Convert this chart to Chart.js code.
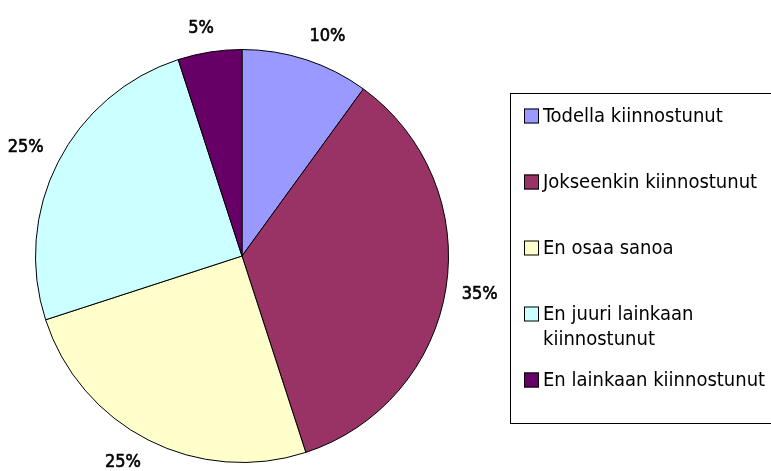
<!DOCTYPE html>
<html>
<head>
<meta charset="utf-8">
<script src="https://cdn.jsdelivr.net/npm/chart.js@4/dist/chart.umd.min.js"></script>
<style>
  html, body { margin: 0; padding: 0; background: #ffffff; }
  #wrap { width: 771px; height: 471px; position: relative; }
</style>
</head>
<body>
<div id="wrap"><canvas id="c"></canvas></div>
<script>
const categories = [
  'Todella kiinnostunut',
  'Jokseenkin kiinnostunut',
  'En osaa sanoa',
  ['En juuri lainkaan', 'kiinnostunut'],
  'En lainkaan kiinnostunut'
];
const percentValues = [10, 35, 25, 25, 5];
const sliceColors = ['#9999FF', '#993366', '#FFFFCC', '#CCFFFF', '#660066'];

const LABEL_FONT = '18px "DejaVu Sans Condensed", "DejaVu Sans", sans-serif';
const LEGEND_FONT = '20px "DejaVu Sans Condensed", "DejaVu Sans", sans-serif';

const outsideLabels = {
  id: 'outsideLabels',
  afterDatasetsDraw(chart) {
    const ctx = chart.ctx;
    const meta = chart.getDatasetMeta(0);
    ctx.save();
    ctx.font = LABEL_FONT;
    ctx.fillStyle = '#000000';
    ctx.strokeStyle = '#000000';
    ctx.lineWidth = 0.6;
    ctx.textAlign = 'center';
    ctx.textBaseline = 'middle';
    meta.data.forEach((arc, i) => {
      const p = arc.getProps(['x', 'y', 'startAngle', 'endAngle', 'outerRadius'], true);
      const mid = (p.startAngle + p.endAngle) / 2;
      const dx = Math.cos(mid), dy = Math.sin(mid);
      const r = p.outerRadius + 16;
      const ax = p.x + dx * r, ay = p.y + dy * r;
      const txt = percentValues[i] + '%';
      const w = ctx.measureText(txt).width;
      const h = 16;
      const kx = Math.max(-1, Math.min(1, dx * 3));
      const ky = Math.max(-1, Math.min(1, dy * 3));
      const tx = ax + kx * w / 2, ty = ay + ky * h / 2;
      ctx.fillText(txt, tx, ty);
      ctx.strokeText(txt, tx, ty);
    });
    ctx.restore();
  }
};

const boxLegend = {
  id: 'boxLegend',
  afterDraw(chart) {
    const ctx = chart.ctx;
    const labels = chart.data.labels;
    const colors = chart.data.datasets[0].backgroundColor;
    const boxLeft = 510.5, boxTop = 93.5, boxRight = 780, boxBottom = 423.5;
    const slot = (boxBottom - boxTop) / labels.length;
    ctx.save();
    ctx.strokeStyle = '#000000';
    ctx.lineWidth = 1;
    ctx.strokeRect(boxLeft, boxTop, boxRight - boxLeft, boxBottom - boxTop);
    ctx.font = LEGEND_FONT;
    ctx.textAlign = 'left';
    ctx.textBaseline = 'middle';
    labels.forEach((lab, i) => {
      const lines = Array.isArray(lab) ? lab : [lab];
      const cy = boxTop + slot * i + 22.5;
      ctx.fillStyle = colors[i];
      ctx.fillRect(524, cy - 7.5, 15, 15);
      ctx.strokeStyle = '#000000';
      ctx.strokeRect(524.5, cy - 7, 14, 14);
      ctx.fillStyle = '#000000';
      lines.forEach((ln, j) => {
        ctx.fillText(ln, 543, cy + 1 + j * 25);
      });
    });
    ctx.restore();
  }
};

new Chart(document.getElementById('c'), {
  type: 'pie',
  data: {
    labels: categories,
    datasets: [{
      data: percentValues,
      backgroundColor: sliceColors,
      borderColor: '#000000',
      borderWidth: 1
    }]
  },
  options: {
    responsive: true,
    maintainAspectRatio: false,
    animation: false,
    layout: { padding: { left: 35, top: 49, bottom: 8, right: 322 } },
    plugins: {
      legend: { display: false },
      tooltip: { enabled: false }
    }
  },
  plugins: [outsideLabels, boxLegend]
});
</script>
</body>
</html>
